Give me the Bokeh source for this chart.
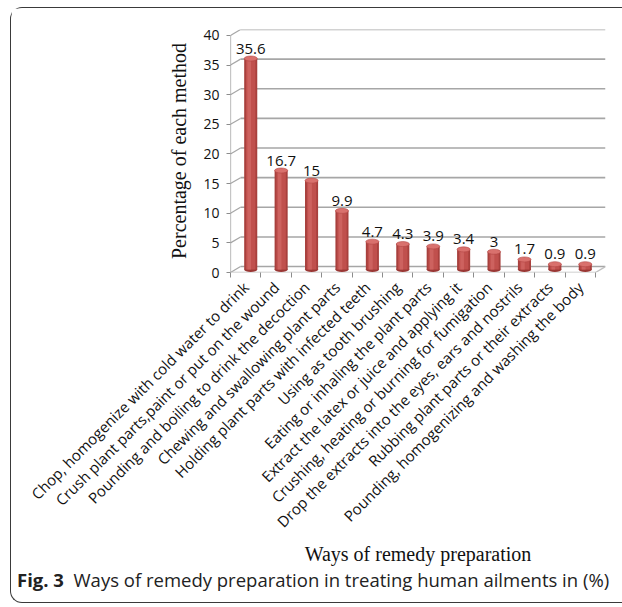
import math
from bokeh.plotting import figure
from bokeh.layouts import column
from bokeh.models import Range1d, FixedTicker, ColumnDataSource, Div
from bokeh.core.properties import value
from bokeh.embed import file_html
from bokeh.resources import INLINE

# ---------------- data ----------------
methods = [
    "Chop, homogenize with cold water to drink",
    "Crush plant parts,paint or put on the wound",
    "Pounding and boiling to drink the decoction",
    "Chewing and swallowing plant parts",
    "Holding plant parts with infected teeth",
    "Using as tooth brushing",
    "Eating or inhaling the plant parts",
    "Extract the latex or juice and applying it",
    "Crushing, heating or burning for fumigation",
    "Drop the extracts into the eyes, ears and nostrils",
    "Rubbing plant parts or their extracts",
    "Pounding, homogenizing and washing the body",
]
percent = [35.6, 16.7, 15, 9.9, 4.7, 4.3, 3.9, 3.4, 3, 1.7, 0.9, 0.9]
value_text = ["35.6", "16.7", "15", "9.9", "4.7", "4.3", "3.9", "3.4", "3", "1.7", "0.9", "0.9"]
y_ticks = [0, 5, 10, 15, 20, 25, 30, 35, 40]

y_title = "Percentage of each method"
x_title = "Ways of remedy preparation"
caption_bold = "Fig. 3"
caption_text = "Ways of remedy preparation in treating human ailments in (%)"

# ---------------- styling constants ----------------
DX = 0.33   # pseudo-3D depth shift (x, category units)
DY = 1.0    # pseudo-3D depth shift (y, value units)
BAR_W = 0.43
CAP_H = 0.85
LABEL_FONT = "Open Sans"

n = len(methods)
xs = list(range(1, n + 1))
bar_x = [x + DX / 2 for x in xs]
bar_bottom = [DY / 2] * n
bar_top = [v + DY / 2 for v in percent]

p = figure(width=611, height=560, output_backend="svg", toolbar_location=None,
           x_range=Range1d(0.5, 0.5 + n + DX), y_range=Range1d(0, max(y_ticks) + DY),
           min_border_left=219, min_border_right=17, min_border_top=21, min_border_bottom=296)
p.outline_line_color = None
p.background_fill_color = "white"
p.border_fill_color = "white"
p.xgrid.visible = False
p.ygrid.visible = False

# back wall gridlines + left wall stubs
grid_src = ColumnDataSource(dict(
    x0=[0.5 + DX] * len(y_ticks), x1=[0.5 + n + DX] * len(y_ticks),
    y=[t + DY for t in y_ticks]))
p.segment(x0="x0", y0="y", x1="x1", y1="y", source=grid_src,
          line_color="#a6a6a6", line_width=1.6)
stub_src = ColumnDataSource(dict(
    x0=[0.5] * len(y_ticks), y0=y_ticks,
    x1=[0.5 + DX] * len(y_ticks), y1=[t + DY for t in y_ticks]))
p.segment(x0="x0", y0="y0", x1="x1", y1="y1", source=stub_src,
          line_color="#a6a6a6", line_width=1.2)
# floor: front edge and right edge
p.segment(x0=[0.5, 0.5 + n], y0=[0, 0], x1=[0.5 + n, 0.5 + n + DX], y1=[0, DY],
          line_color="#bfbfbf", line_width=1.3)
# left value axis line
p.segment(x0=[0.5], y0=[0], x1=[0.5], y1=[max(y_ticks)], line_color="#8c8c8c", line_width=1.2)

# cylinders
src = ColumnDataSource(dict(x=bar_x, b=bar_bottom, t=bar_top,
                            xl=[x - 0.05 for x in bar_x], lab=value_text))
p.ellipse(x="x", y="b", width=BAR_W, height=CAP_H, source=src,
          fill_color="#9a3734", line_color=None)
p.vbar(x="x", bottom="b", top="t", width=BAR_W, source=src,
       fill_color="#a8403d", line_color=None)
p.vbar(x="x", bottom="b", top="t", width=BAR_W * 0.72, source=src,
       fill_color="#c0504d", line_color=None)
p.vbar(x="xl", bottom="b", top="t", width=BAR_W * 0.28, source=src,
       fill_color="#cd625f", line_color=None)
p.ellipse(x="x", y="t", width=BAR_W, height=CAP_H, source=src,
          fill_color="#d9716d", line_color="#b44744", line_width=0.6)

# value labels
p.text(x="x", y="t", text="lab", source=src, text_align="center", text_baseline="bottom",
       y_offset=-5, text_font=value(LABEL_FONT), text_font_size="15px", text_color="#111111")

# axes
yax = p.yaxis[0]
yax.ticker = FixedTicker(ticks=y_ticks)
yax.axis_line_color = None
yax.major_tick_line_color = "#8c8c8c"
yax.major_tick_out = 4
yax.major_tick_in = 0
yax.minor_tick_line_color = None
yax.major_label_standoff = 7
yax.major_label_text_font = LABEL_FONT
yax.major_label_text_font_size = "14px"
yax.major_label_text_color = "#111111"
yax.axis_label = y_title
yax.axis_label_text_font = "Liberation Serif"
yax.axis_label_text_font_style = "normal"
yax.axis_label_text_font_size = "20px"
yax.axis_label_text_color = "#111111"
yax.axis_label_standoff = 10

xax = p.xaxis[0]
xax.ticker = FixedTicker(ticks=xs, minor_ticks=[x - 0.5 for x in xs] + [n + 0.5])
xax.major_label_overrides = {x: m for x, m in zip(xs, methods)}
xax.major_label_orientation = math.pi / 4
xax.axis_line_color = None
xax.major_tick_line_color = None
xax.minor_tick_line_color = "#8c8c8c"
xax.minor_tick_out = 5
xax.minor_tick_in = 0
xax.major_label_standoff = 6
xax.major_label_text_font = LABEL_FONT
xax.major_label_text_font_size = "15px"
xax.major_label_text_color = "#111111"
xax.axis_label = x_title
xax.axis_label_text_font = "Liberation Serif"
xax.axis_label_text_font_style = "normal"
xax.axis_label_text_font_size = "20px"
xax.axis_label_text_color = "#111111"
xax.axis_label_standoff = 2

caption = Div(
    text=f'<span style="font-weight:bold">{caption_bold}</span>&nbsp;&nbsp;{caption_text}',
    width=611, height=34,
    styles={"font-family": "Open Sans", "font-size": "18.5px", "color": "#222222",
            "padding-left": "6px", "padding-top": "0px", "white-space": "nowrap",
            "line-height": "24px"})
caption.margin = 0

layout = column(p, caption)
layout.margin = (7, 0, 0, 10)
layout.spacing = 0
layout.styles = {
    "border-top": "1.3px solid #3a3a3a",
    "border-left": "1.3px solid #3a3a3a",
    "border-bottom": "1.3px solid #3a3a3a",
    "border-top-left-radius": "12px",
    "border-bottom-left-radius": "12px",
    "background-color": "white",
}

open("out.html", "w").write(file_html(layout, INLINE))
